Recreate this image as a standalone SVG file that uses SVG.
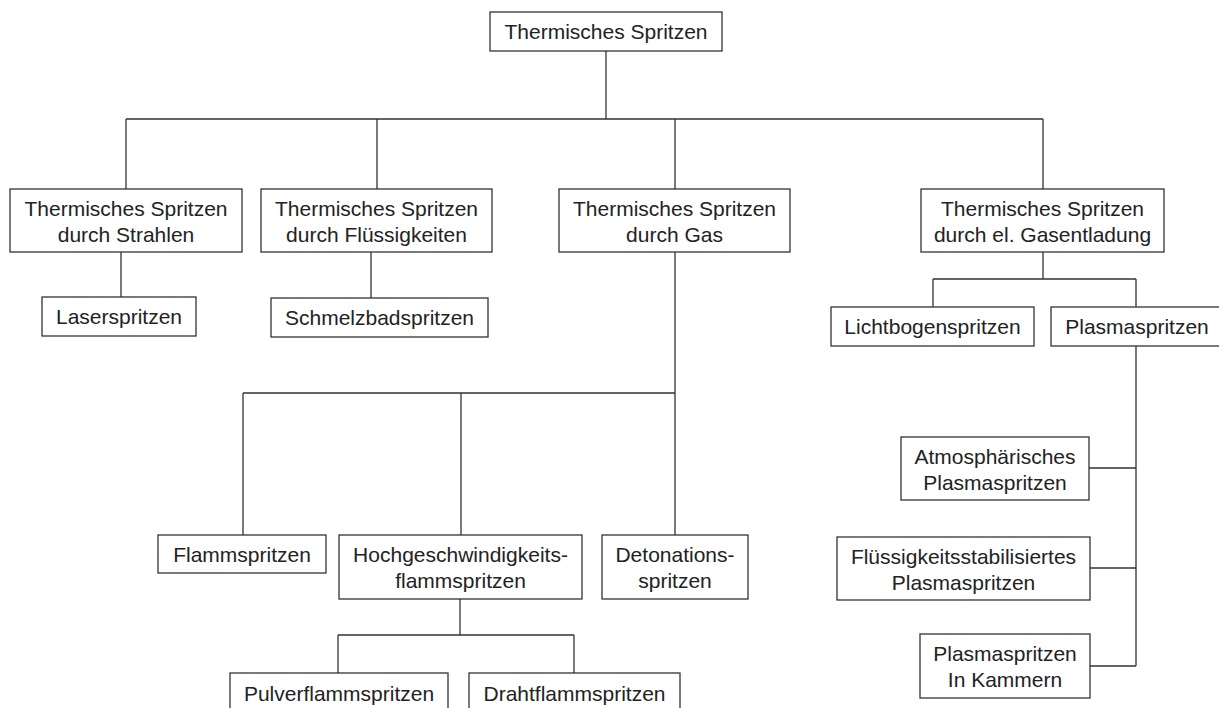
<svg xmlns="http://www.w3.org/2000/svg" width="1219" height="708" viewBox="0 0 1219 708">
<style>
.b{fill:#fff;stroke:#333;stroke-width:1.3}
.t{font-family:"Liberation Sans",Arial,sans-serif;font-size:21px;fill:#222;text-anchor:middle}
.c{fill:none;stroke:#333;stroke-width:1.3}
</style>
<rect width="1219" height="708" fill="#fff"/>
<g id="connectors">
<path class="c" d="M606 51V119M126 119H1043M126 119V189M377 119V189M675 119V189M1043 119V189"/>
<path class="c" d="M121 252V297M371 252V298"/>
<path class="c" d="M675 252V535M243 393H675M243 393V535M461 393V535"/>
<path class="c" d="M460 599V635M338 635H574M338 635V673M574 635V673"/>
<path class="c" d="M1043 252V279M933 279H1136M933 279V307M1136 279V307"/>
<path class="c" d="M1136 346V666M1089 468H1136M1090 568H1136M1090 666H1136"/>
</g>
<g id="n-root"><rect class="b" x="490" y="12" width="232" height="39"/><text class="t" x="606" y="39">Thermisches Spritzen</text></g>
<g id="n-strahlen"><rect class="b" x="10" y="189" width="232" height="63"/><text class="t" x="126" y="215.5">Thermisches Spritzen</text><text class="t" x="126" y="241.5">durch Strahlen</text></g>
<g id="n-fluessigkeiten"><rect class="b" x="261" y="189" width="231" height="63"/><text class="t" x="376.5" y="215.5">Thermisches Spritzen</text><text class="t" x="376.5" y="241.5">durch Flüssigkeiten</text></g>
<g id="n-gas"><rect class="b" x="559" y="189" width="231" height="63"/><text class="t" x="674.5" y="215.5">Thermisches Spritzen</text><text class="t" x="674.5" y="241.5">durch Gas</text></g>
<g id="n-gasentladung"><rect class="b" x="921" y="189" width="243" height="63"/><text class="t" x="1042.5" y="215.5">Thermisches Spritzen</text><text class="t" x="1042.5" y="241.5">durch el. Gasentladung</text></g>
<g id="n-laser"><rect class="b" x="42" y="297" width="154" height="39"/><text class="t" x="119" y="324">Laserspritzen</text></g>
<g id="n-schmelzbad"><rect class="b" x="271" y="298" width="217" height="39"/><text class="t" x="379.5" y="325">Schmelzbadspritzen</text></g>
<g id="n-lichtbogen"><rect class="b" x="831" y="307" width="203" height="39"/><text class="t" x="932.5" y="334">Lichtbogenspritzen</text></g>
<g id="n-plasma"><rect class="b" x="1051" y="307" width="172" height="39"/><text class="t" x="1137" y="334">Plasmaspritzen</text></g>
<g id="n-flamm"><rect class="b" x="158" y="535" width="168" height="38"/><text class="t" x="242" y="561.5">Flammspritzen</text></g>
<g id="n-hochgeschw"><rect class="b" x="339" y="535" width="243" height="64"/><text class="t" x="460.5" y="562">Hochgeschwindigkeits-</text><text class="t" x="460.5" y="588">flammspritzen</text></g>
<g id="n-detonation"><rect class="b" x="602" y="535" width="146" height="64"/><text class="t" x="675" y="562">Detonations-</text><text class="t" x="675" y="588">spritzen</text></g>
<g id="n-pulver"><rect class="b" x="230" y="673" width="218" height="40"/><text class="t" x="339" y="701">Pulverflammspritzen</text></g>
<g id="n-draht"><rect class="b" x="469" y="673" width="211" height="40"/><text class="t" x="574.5" y="701">Drahtflammspritzen</text></g>
<g id="n-atmos"><rect class="b" x="901" y="437" width="188" height="63"/><text class="t" x="995" y="463.5">Atmosphärisches</text><text class="t" x="995" y="489.5">Plasmaspritzen</text></g>
<g id="n-fluessstab"><rect class="b" x="837" y="537" width="253" height="63"/><text class="t" x="963.5" y="563.5">Flüssigkeitsstabilisiertes</text><text class="t" x="963.5" y="589.5">Plasmaspritzen</text></g>
<g id="n-kammer"><rect class="b" x="920" y="634" width="170" height="64"/><text class="t" x="1005" y="661">Plasmaspritzen</text><text class="t" x="1005" y="687">In Kammern</text></g>
</svg>
